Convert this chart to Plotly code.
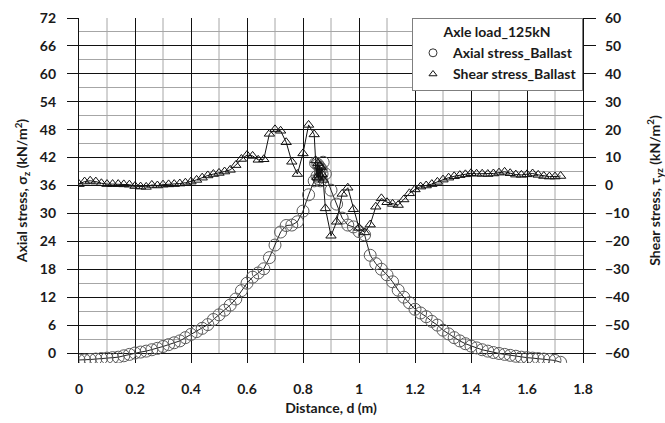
import plotly.graph_objects as go

# Distance along the track (m)
distance = [
    0.00, 0.02, 0.04, 0.06, 0.08, 0.10, 0.12, 0.14, 0.16, 0.18,
    0.20, 0.22, 0.24, 0.26, 0.28, 0.30, 0.32, 0.34, 0.36, 0.38,
    0.40, 0.42, 0.44, 0.46, 0.48, 0.50, 0.52, 0.54, 0.56, 0.58,
    0.60, 0.62, 0.64, 0.66, 0.68, 0.70, 0.72, 0.74, 0.76, 0.78,
    0.80, 0.82, 0.84, 0.845, 0.85, 0.853, 0.856, 0.859, 0.862, 0.865,
    0.868, 0.872, 0.88, 0.90, 0.92, 0.94, 0.96, 0.98, 1.00, 1.02,
    1.04, 1.06, 1.08, 1.10, 1.12, 1.14, 1.16, 1.18, 1.20, 1.22,
    1.24, 1.26, 1.28, 1.30, 1.32, 1.34, 1.36, 1.38, 1.40, 1.42,
    1.44, 1.46, 1.48, 1.50, 1.52, 1.54, 1.56, 1.58, 1.60, 1.62,
    1.64, 1.66, 1.68, 1.70, 1.72,
]

# Vertical (axial) stress in the ballast, kN/m2
axial_stress = [
    -1.5, -1.5, -1.4, -1.3, -1.2, -1.1, -1.0, -0.9, -0.6, -0.3,
    0.0, 0.2, 0.4, 0.7, 1.0, 1.4, 1.8, 2.2, 2.6, 3.3,
    4.0, 4.6, 5.3, 6.1, 7.2, 8.2, 9.2, 10.3, 11.6, 13.4,
    15.0, 16.3, 17.2, 18.1, 20.5, 23.2, 26.0, 27.4, 27.5, 28.2,
    30.5, 34.0, 37.0, 40.8, 38.0, 40.5, 37.5, 40.0, 37.0, 39.5,
    38.5, 41.0, 38.5, 35.0, 32.0, 29.0, 27.5, 27.1, 26.1, 25.4,
    21.0, 19.2, 18.0, 16.8, 15.3, 13.5, 12.0, 10.8, 9.4, 8.6,
    7.8, 6.8, 6.0, 4.9, 4.1, 3.3, 2.6, 2.0, 1.5, 1.1,
    0.7, 0.4, 0.1, -0.1, -0.3, -0.5, -0.7, -0.9, -1.0, -1.1,
    -1.2, -1.3, -1.4, -1.6, -2.0,
]

# Shear stress in the ballast, kN/m2
shear_stress = [
    0.5, 1.4, 1.7, 1.4, 0.8, 0.5, 0.5, 0.5, 0.4, 0.3,
    -0.2, -0.4, -0.5, 0.2, 0.0, 0.3, 0.4, 0.5, 0.7, 1.0,
    1.4, 2.0, 2.8, 3.6, 4.1, 4.5, 5.0, 5.6, 7.3, 9.5,
    10.9, 10.6, 9.2, 9.4, 18.5, 20.1, 19.6, 15.5, 8.5, 4.1,
    11.5, 21.7, 18.3, 9.0, 3.0, 8.0, 2.5, 7.0, 3.5, 6.5,
    4.0, 2.0, -8.2, -18.0, -13.0, -3.0, -0.8, -8.5, -15.2, -16.8,
    -14.0, -7.6, -4.6, -6.0, -6.6, -7.0, -5.0, -2.8, -1.4, -0.4,
    0.0, 0.5, 1.3, 2.1, 2.8, 3.3, 3.7, 4.0, 4.4, 4.2,
    4.2, 4.1, 4.3, 4.6, 4.9, 4.4, 3.9, 3.8, 4.0, 4.3,
    3.8, 3.4, 3.2, 3.2, 3.4,
]

# axis scales
x_max, x_major, x_minor = 1.8, 0.2, 0.1
y_max, y_major, y_minor = 72, 6, 3
y2_min_label, y2_max, y2_major = -60, 60, 10

legend_title = "Axle load_125kN"
axial_name = "Axial stress_Ballast"
shear_name = "Shear stress_Ballast"

FONT = "Lato"
INK = "#1a1a1a"
MAJOR = "#111111"
MINOR = "#a6a6a6"

W, H = 665, 423
M_L, M_R, M_T = 79, 82, 18
AXIS_PX = 335                     # pixel height from y=0 to y=y_max
TAIL_PX = 10                      # plot area continues a little below y=0
M_B = H - M_T - AXIS_PX - TAIL_PX

# the plot area reaches a little below zero so the lowest markers show;
# the right axis keeps its 0 aligned with the left axis' middle
px_per_unit = AXIS_PX / y_max
y_min = -TAIL_PX / px_per_unit
y2_per_y = (y2_max - y2_min_label) / y_max
y2_min = y2_max - (y_max - y_min) * y2_per_y

fig = go.Figure()

# connecting lines
fig.add_trace(go.Scatter(
    x=distance, y=axial_stress, mode="lines", yaxis="y",
    line=dict(color="#222222", width=1), showlegend=False, hoverinfo="skip",
))
fig.add_trace(go.Scatter(
    x=distance, y=shear_stress, mode="lines", yaxis="y2",
    line=dict(color="#111111", width=1), showlegend=False, hoverinfo="skip",
))

# markers
fig.add_trace(go.Scatter(
    x=distance, y=axial_stress, mode="markers", yaxis="y", showlegend=False,
    marker=dict(symbol="circle-open", size=12, color="#5a5a5a",
                line=dict(width=1, color="#5a5a5a")),
))
fig.add_trace(go.Scatter(
    x=distance, y=shear_stress, mode="markers", yaxis="y2", showlegend=False,
    marker=dict(symbol="triangle-up-open", size=9, color="#111111",
                line=dict(width=1, color="#111111")),
))

# legend keys (marker only, smaller than the plotted markers)
fig.add_trace(go.Scatter(
    x=[None], y=[None], mode="markers", name=axial_name,
    marker=dict(symbol="circle-open", size=8, color="#333333",
                line=dict(width=1, color="#333333")),
))
fig.add_trace(go.Scatter(
    x=[None], y=[None], mode="markers", name=shear_name,
    marker=dict(symbol="triangle-up-open", size=7, color="#111111",
                line=dict(width=1, color="#111111")),
))

# light minor vertical grid, limited to the 0..y_max band
n_minor = int(round(x_max / x_minor))
for i in range(1, n_minor, 2):
    xv = i * x_minor
    fig.add_shape(type="line", xref="x", yref="y", x0=xv, x1=xv, y0=0, y1=y_max,
                  line=dict(color=MINOR, width=1), layer="below")

tick_font = dict(family=FONT, size=14, color=INK, weight="bold")
title_font = dict(family=FONT, size=14, color=INK, weight="bold")

fig.update_layout(
    width=W, height=H,
    margin=dict(l=M_L, r=M_R, t=M_T, b=M_B),
    paper_bgcolor="white", plot_bgcolor="white",
    font=dict(family=FONT, color=INK),
    xaxis=dict(
        range=[0, x_max], dtick=x_major, tick0=0,
        showgrid=True, gridcolor=MAJOR, gridwidth=1.3,
        ticks="", showline=False, zeroline=False, automargin=False,
        tickfont=tick_font, ticklabelstandoff=16,
        title=dict(text="Distance, d (m)", font=title_font, standoff=7),
    ),
    yaxis=dict(
        range=[y_min, y_max], dtick=y_major, tick0=0,
        showgrid=True, gridcolor=MAJOR, gridwidth=1.3,
        minor=dict(dtick=y_minor, tick0=0, showgrid=True, gridcolor=MINOR, gridwidth=1),
        ticks="outside", ticklen=11, tickcolor=MAJOR, tickwidth=1.3,
        showline=True, linecolor=MAJOR, linewidth=1.3,
        zeroline=True, zerolinecolor=MAJOR, zerolinewidth=1.3,
        automargin=False,
        tickfont=tick_font, ticklabelstandoff=8,
        title=dict(text="Axial stress, σ<sub>z</sub> (kN/m<sup>2</sup>)",
                   font=title_font, standoff=8),
    ),
    yaxis2=dict(
        range=[y2_min, y2_max], dtick=y2_major, tick0=0, overlaying="y", side="right",
        showgrid=False, zeroline=False, automargin=False,
        ticks="outside", ticklen=12, tickcolor=MAJOR, tickwidth=1.3,
        showline=True, linecolor=MAJOR, linewidth=1.3,
        tickfont=tick_font, ticklabelstandoff=6,
        title=dict(text="Shear stress, τ<sub>yz</sub> (kN/m<sup>2</sup>)",
                   font=title_font, standoff=22),
    ),
    legend=dict(
        x=1.0, xanchor="right", y=1.0, yanchor="top",
        bgcolor="white", bordercolor="#7f7f7f", borderwidth=1,
        font=dict(family=FONT, size=14, color=INK, weight="bold"),
        title=dict(text=legend_title, side="top center",
                   font=dict(family=FONT, size=14, color=INK, weight="bold")),
        itemsizing="trace", tracegroupgap=2,
    ),
)

fig.write_html("out.html")
